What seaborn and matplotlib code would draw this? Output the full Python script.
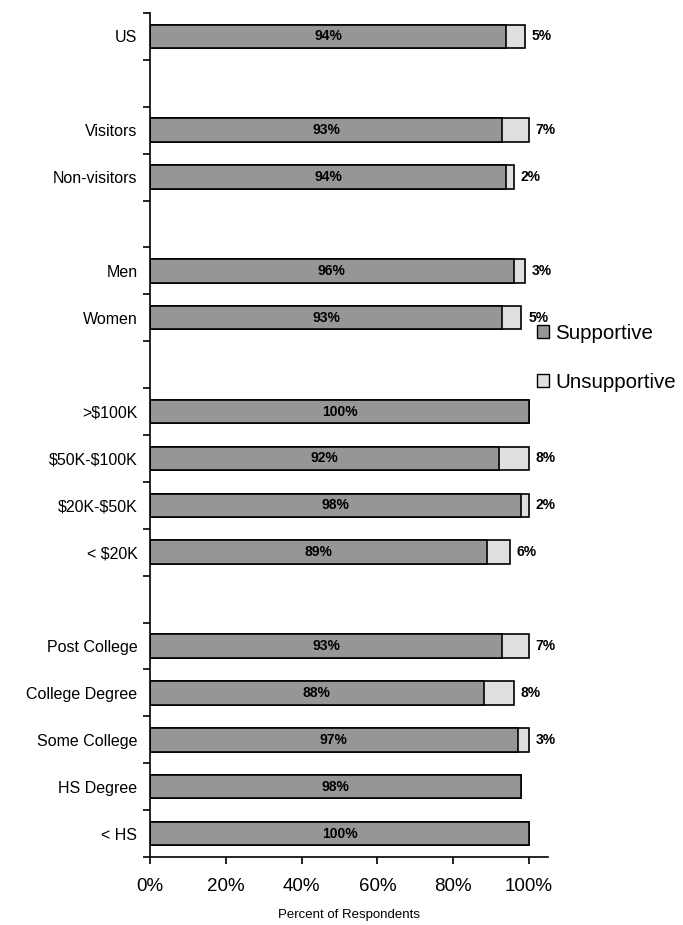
import numpy as np
import pandas as pd
import matplotlib
matplotlib.use('Agg')
import matplotlib.pyplot as plt
import matplotlib.patches as mpatches
import seaborn as sns

# Data
groups = ['US', 'Visitors', 'Non-visitors', 'Men', 'Women',
          '>$100K', '$50K-$100K', '$20K-$50K', '< $20K',
          'Post College', 'College Degree', 'Some College', 'HS Degree', '< HS']
slots = [0, 2, 3, 5, 6, 8, 9, 10, 11, 13, 14, 15, 16, 17]  # empty slots separate the groups
supportive = [94, 93, 94, 96, 93, 100, 92, 98, 89, 93, 88, 97, 98, 100]
unsupportive = [5, 7, 2, 3, 5, 0, 8, 2, 6, 7, 8, 3, 0, 0]

df = pd.DataFrame({'group': groups, 'pos': slots,
                   'Supportive': supportive, 'Unsupportive': unsupportive})
df['total'] = df['Supportive'] + df['Unsupportive']

sns.set_style('white')
plt.rcParams['font.family'] = ['Liberation Sans', 'DejaVu Sans']
plt.rcParams['text.parse_math'] = False
plt.rcParams['text.color'] = 'black'
plt.rcParams['xtick.color'] = 'black'
plt.rcParams['ytick.color'] = 'black'
plt.rcParams['axes.labelcolor'] = 'black'

dark = '#969696'
light = '#e0e0e0'

fig = plt.figure(figsize=(6.83, 9.25), dpi=100)
ax = fig.add_axes([0.2196, 0.0735, 0.5827, 0.9125])

# stacked: draw total (light) first, supportive on top
sns.barplot(data=df, x='total', y='pos', orient='h', native_scale=True,
            color=light, edgecolor='black', linewidth=1.2, width=0.5,
            saturation=1, ax=ax)
sns.barplot(data=df, x='Supportive', y='pos', orient='h', native_scale=True,
            color=dark, edgecolor='black', linewidth=1.2, width=0.5,
            saturation=1, ax=ax)

for _, r in df.iterrows():
    ax.text(r['Supportive'] / 2, r['pos'], f"{r['Supportive']}%", ha='center', va='center',
            fontsize=10, fontweight='bold')
    if r['Unsupportive'] > 0:
        ax.text(r['total'] + 1.8, r['pos'], f"{r['Unsupportive']}%", ha='left', va='center',
                fontsize=10, fontweight='bold')

ax.set_xlim(0, 105)
ax.set_ylim(17.5, -0.5)

ax.set_xticks([0, 20, 40, 60, 80, 100])
ax.set_xticklabels(['0%', '20%', '40%', '60%', '80%', '100%'], fontsize=13.5)
ax.set_xlabel('Percent of Respondents', fontsize=9.5, labelpad=10)
ax.set_ylabel('')

ax.set_yticks(np.arange(-0.5, 18, 1))
ax.set_yticklabels([])
ax.set_yticks(slots, minor=True)
ax.set_yticklabels(groups, minor=True, fontsize=11.5)
ax.tick_params(axis='y', which='major', direction='out', length=5, width=1.2, left=True)
ax.tick_params(axis='y', which='minor', length=0, pad=9)
ax.tick_params(axis='x', direction='out', length=5, width=1.2, bottom=True, pad=10)

for s in ['top', 'right']:
    ax.spines[s].set_visible(False)
for s in ['left', 'bottom']:
    ax.spines[s].set_color('black')
    ax.spines[s].set_linewidth(1.2)

handles = [mpatches.Patch(facecolor=dark, edgecolor='black', label='Supportive'),
           mpatches.Patch(facecolor=light, edgecolor='black', label='Unsupportive')]
fig.legend(handles=handles, loc='center left', bbox_to_anchor=(0.774, 0.613),
           frameon=False, fontsize=14.8, handlelength=0.6, handleheight=0.6,
           handletextpad=0.3, labelspacing=1.45, borderaxespad=0)

fig.savefig('out.png', dpi=100)
